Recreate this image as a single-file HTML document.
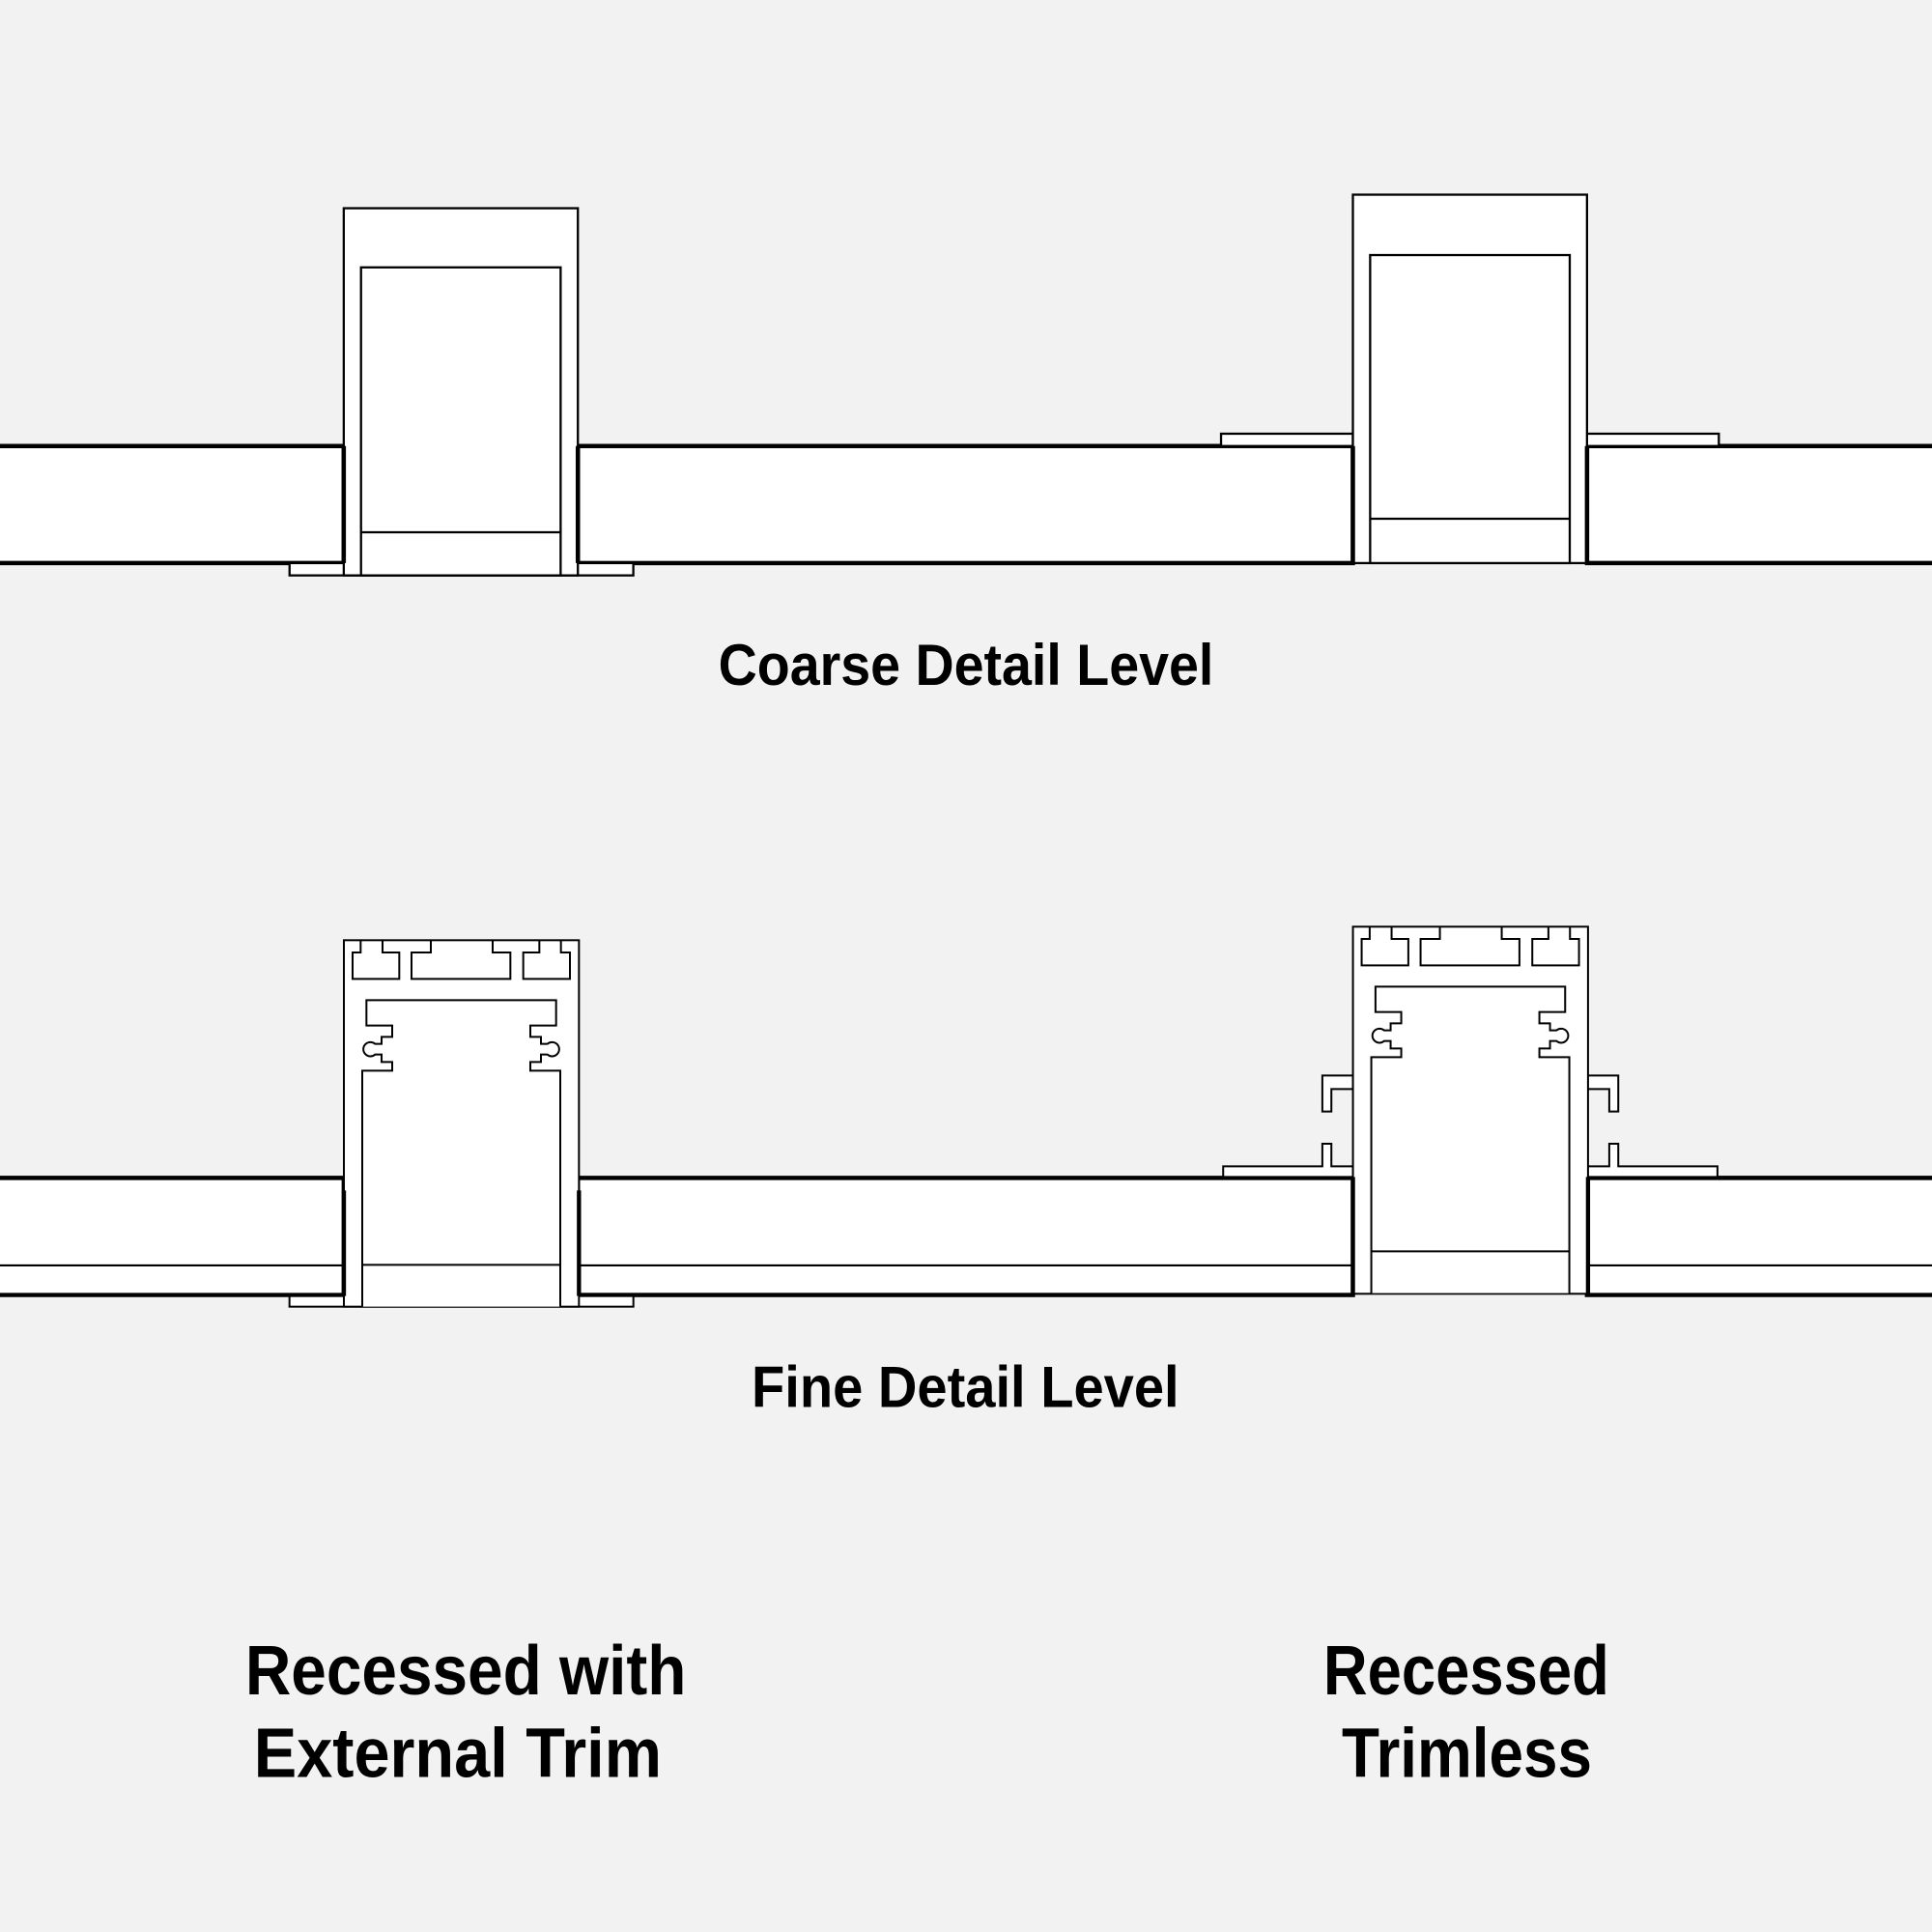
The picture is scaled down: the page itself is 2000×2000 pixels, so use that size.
<!DOCTYPE html>
<html><head><meta charset="utf-8"><style>
html,body{margin:0;padding:0;background:#f2f2f2;}
svg{display:block;}
text{font-family:"Liberation Sans",sans-serif;font-weight:bold;fill:#000;}
</style></head><body>
<svg width="2000" height="2000" viewBox="0 0 2000 2000" xmlns="http://www.w3.org/2000/svg">
<rect width="2000" height="2000" fill="#f2f2f2"/>
<g transform="scale(1.27551)" fill="#fff" stroke="#000" stroke-linejoin="miter">
<defs>
  <g id="chambers" fill="none" stroke-width="6">
    <path d="M100,40 V78 H75 V160 H220 V78 H168 V40"/>
    <path d="M318,40 V78 H258 V160 H565 V78 H510 V40"/>
    <path d="M655,40 V78 H605 V160 H750 V78 H722 V40"/>
  </g>
  <path id="inner" stroke-width="6" fill="#fff" d="M105,1178 V445 H198 V418 H165 V395 H145 A22,22 0 1,1 145,362 H165 V340 H198 V305 H118 V226 H707 V305 H627 V340 H660 V362 H680 A22,22 0 1,1 680,395 H660 V418 H627 V445 H720 V1178"/>
</defs>

<g stroke-width="3.5">
  <path d="M-5,362 H279 V457 H-5 Z"/>
  <rect x="469" y="362" width="629" height="95"/>
  <path d="M1575,362 H1288 V457 H1575 Z"/>
</g>
<g stroke-width="1.8">
  <rect x="235" y="457" width="279" height="10"/>
  <rect x="279" y="169" width="190" height="298"/>
  <rect x="293" y="217" width="162" height="250"/>
  <line x1="293" y1="432" x2="455" y2="432"/>
</g>
<g stroke-width="3.5" fill="none">
  <line x1="279" y1="362" x2="279" y2="457"/>
  <line x1="469" y1="362" x2="469" y2="457"/>
</g>
<g stroke-width="1.8">
  <rect x="991" y="352" width="107" height="10"/>
  <rect x="1288" y="352" width="107" height="10"/>
  <rect x="1098" y="158" width="190" height="299"/>
  <rect x="1112" y="207" width="162" height="250"/>
  <line x1="1112" y1="421" x2="1274" y2="421"/>
</g>
<g stroke-width="3.5" fill="none">
  <line x1="1098" y1="362" x2="1098" y2="457"/>
  <line x1="1288" y1="362" x2="1288" y2="457"/>
</g>

<g stroke-width="3.5">
  <path d="M-5,956 H279 V1051 H-5 Z"/>
  <rect x="469" y="956" width="629" height="95"/>
  <path d="M1575,956 H1288 V1051 H1575 Z"/>
</g>
<g stroke-width="1.6" fill="none">
  <line x1="0" y1="1027" x2="279" y2="1027"/>
  <line x1="469" y1="1027" x2="1098" y2="1027"/>
  <line x1="1288" y1="1027" x2="1568" y2="1027"/>
</g>

<g transform="translate(266.56,752.63) scale(0.26134)">
  <rect x="-121" y="1145" width="1068" height="33" stroke-width="6"/>
  <rect x="48" y="40" width="730" height="1138" stroke-width="6"/>
  <use href="#chambers"/>
  <use href="#inner"/>
  <line x1="105" y1="1048" x2="720" y2="1048" stroke-width="6"/>
  <line x1="48" y1="817" x2="48" y2="1145" stroke-width="13"/>
  <line x1="778" y1="817" x2="778" y2="1145" stroke-width="13"/>
</g>

<g transform="translate(1085.5,741.65) scale(0.26134)">
  <path stroke-width="6" d="M48,784 H-19 V714 H-47 V784 H-355 V817 H48 Z"/>
  <path stroke-width="6" d="M777,784 H844 V714 H872 V784 H1180 V817 H777 Z"/>
  <path stroke-width="6" d="M48,502 H-47 V614 H-19 V544 H48 Z"/>
  <path stroke-width="6" d="M777,502 H872 V614 H844 V544 H777 Z"/>
  <rect x="48" y="40" width="730" height="1140" stroke-width="6"/>
  <use href="#chambers"/>
  <use href="#inner"/>
  <line x1="105" y1="1048" x2="720" y2="1048" stroke-width="6"/>
  <line x1="48" y1="817" x2="48" y2="1180" stroke-width="13"/>
  <line x1="778" y1="817" x2="778" y2="1180" stroke-width="13"/>
</g>

<g stroke="none">
  <text x="583" y="556" font-size="47" textLength="402" lengthAdjust="spacingAndGlyphs">Coarse Detail Level</text>
  <text x="610" y="1142" font-size="47" textLength="347" lengthAdjust="spacingAndGlyphs">Fine Detail Level</text>
  <text x="199" y="1375" font-size="57" textLength="358" lengthAdjust="spacingAndGlyphs">Recessed with</text>
  <text x="206" y="1442" font-size="57" textLength="331" lengthAdjust="spacingAndGlyphs">External Trim</text>
  <text x="1074" y="1375" font-size="57" textLength="232" lengthAdjust="spacingAndGlyphs">Recessed</text>
  <text x="1089" y="1442" font-size="57" textLength="203" lengthAdjust="spacingAndGlyphs">Trimless</text>
</g>
</g>
</svg>
</body></html>
